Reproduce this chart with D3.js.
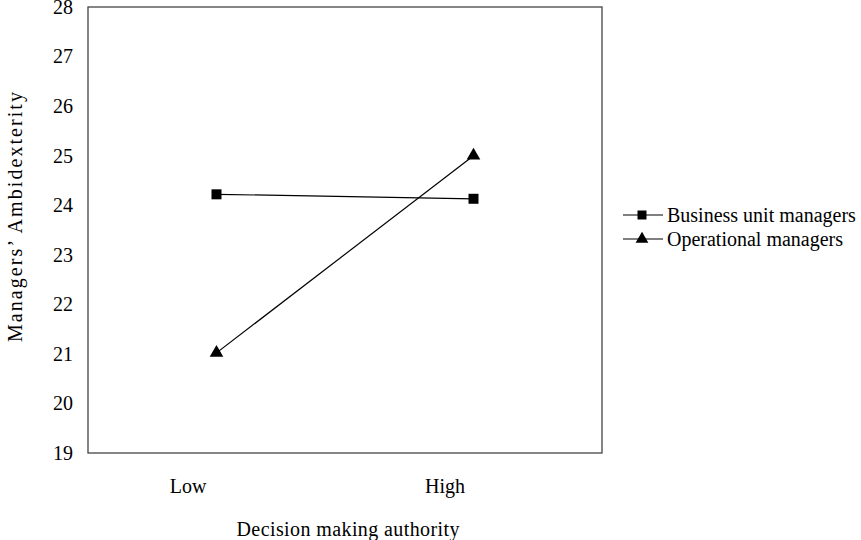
<!DOCTYPE html>
<html>
<head>
<meta charset="utf-8">
<script src="https://cdn.jsdelivr.net/npm/d3@7"></script>
<style>
  body { margin: 0; background: #fff; }
  text { font-family: "Liberation Serif", "Times New Roman", serif; fill: #000; }
</style>
</head>
<body>
<div id="chart"></div>
<script>
// Interaction plot: decision making authority x manager level
var categories = ["Low", "High"];
var businessUnit = [24.22, 24.13];
var operational = [21.02, 25.0];
var yTicks = [19, 20, 21, 22, 23, 24, 25, 26, 27, 28];
var seriesNames = ["Business unit managers", "Operational managers"];

var width = 861, height = 540;
var margin = {left: 88, right: 259, top: 7, bottom: 87};
var plotW = width - margin.left - margin.right;
var plotH = height - margin.top - margin.bottom;
var fontSize = 20;

var svg = d3.select("#chart").append("svg")
    .attr("width", width)
    .attr("height", height);

var x = d3.scalePoint()
    .domain(categories)
    .range([0, plotW])
    .padding(0.5);

var y = d3.scaleLinear()
    .domain([19, 28])
    .range([plotH, 0]);

var g = svg.append("g")
    .attr("transform", "translate(" + margin.left + "," + margin.top + ")");

// plot frame
g.append("rect")
    .attr("x", 0).attr("y", 0)
    .attr("width", plotW).attr("height", plotH)
    .attr("fill", "none")
    .attr("stroke", "#444")
    .attr("stroke-width", 1.3);

var yAxis = g.append("g")
    .call(d3.axisLeft(y).tickValues(yTicks).tickSize(0).tickPadding(15).tickFormat(d3.format("d")));
yAxis.select(".domain").remove();
yAxis.selectAll("text")
    .style("font-size", fontSize + "px")
    .style("font-family", "'Liberation Serif', serif");

var xAxis = g.append("g")
    .attr("transform", "translate(0," + plotH + ")")
    .call(d3.axisBottom(x).tickSize(0).tickPadding(26));
xAxis.select(".domain").remove();
xAxis.selectAll("text")
    .attr("dx", -29)
    .style("font-size", fontSize + "px")
    .style("font-family", "'Liberation Serif', serif");

var line = d3.line()
    .x(function(d, i) { return x(categories[i]); })
    .y(function(d) { return y(d); });

var series = [
  {name: seriesNames[0], values: businessUnit, symbol: d3.symbolSquare, size: 100, legendSize: 81},
  {name: seriesNames[1], values: operational, symbol: d3.symbolTriangle, size: 80, legendSize: 70}
];

series.forEach(function(s) {
  g.append("path")
    .datum(s.values)
    .attr("d", line)
    .attr("fill", "none")
    .attr("stroke", "#000")
    .attr("stroke-width", 1.2);

  g.selectAll(null)
    .data(s.values)
    .enter()
    .append("path")
      .attr("d", d3.symbol().type(s.symbol).size(s.size))
      .attr("transform", function(d, i) { return "translate(" + x(categories[i]) + "," + y(d) + ")"; })
      .attr("fill", "#000");
});

// axis titles
svg.append("text")
    .attr("transform", "translate(22,217) rotate(-90)")
    .attr("text-anchor", "middle")
    .attr("font-size", fontSize)
    .attr("textLength", 250)
    .attr("lengthAdjust", "spacing")
    .text("Managers\u2019 Ambidexterity");

svg.append("text")
    .attr("x", 348)
    .attr("y", 536)
    .attr("text-anchor", "middle")
    .attr("font-size", fontSize)
    .attr("textLength", 223)
    .attr("lengthAdjust", "spacing")
    .text("Decision making authority");

// legend
var legend = svg.append("g").attr("transform", "translate(623,215)");
series.forEach(function(s, i) {
  var row = legend.append("g").attr("transform", "translate(0," + (i * 24) + ")");
  row.append("line")
    .attr("x1", 0).attr("x2", 40)
    .attr("y1", 0).attr("y2", 0)
    .attr("stroke", "#000").attr("stroke-width", 1.2);
  row.append("path")
    .attr("d", d3.symbol().type(s.symbol).size(s.legendSize))
    .attr("transform", "translate(19,0)")
    .attr("fill", "#000");
  row.append("text")
    .attr("x", 44)
    .attr("y", 7)
    .attr("font-size", fontSize)
    .text(s.name);
});
</script>
</body>
</html>
